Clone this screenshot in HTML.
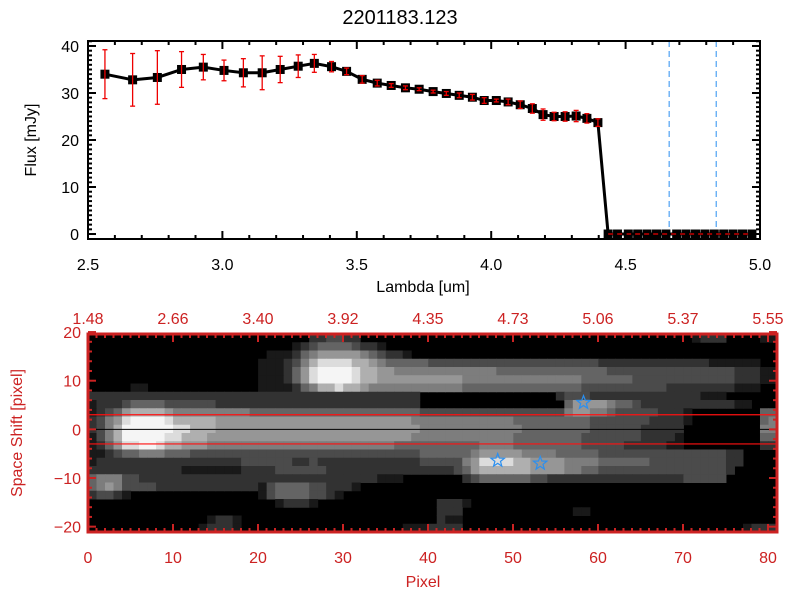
<!DOCTYPE html>
<html><head><meta charset="utf-8"><style>
html,body{margin:0;padding:0;background:#fff;width:800px;height:600px;overflow:hidden}
svg{display:block;font-family:"Liberation Sans",sans-serif}
</style></head><body>
<svg id="chart" width="800" height="600" viewBox="0 0 800 600" xmlns="http://www.w3.org/2000/svg">
<text x="400" y="24" text-anchor="middle" font-size="20">2201183.123</text>
<text x="423" y="292" text-anchor="middle" font-size="16">Lambda [um]</text>
<text transform="translate(36,140) rotate(-90)" text-anchor="middle" font-size="16">Flux [mJy]</text>
<text x="423" y="587" text-anchor="middle" font-size="16" fill="#cc2222">Pixel</text>
<text transform="translate(22,433) rotate(-90)" text-anchor="middle" font-size="16" fill="#cc2222">Space Shift [pixel]</text>
<g id="top"></g><g id="bot"></g>
</svg>
<script>
// ---- top spectrum data ----
const lambda = [2.563,2.666,2.758,2.848,2.929,3.006,3.078,3.148,3.215,3.282,3.342,3.406,3.462,3.52,3.576,3.628,3.681,3.732,3.784,3.833,3.881,3.930,3.974,4.019,4.063,4.108,4.153,4.193,4.234,4.275,4.316,4.356,4.397,4.435,4.47,4.51,4.545,4.58,4.615,4.65,4.69,4.725,4.76,4.795,4.83,4.865,4.90,4.935,4.97];
const flux = [34.0,32.8,33.3,35.0,35.5,34.8,34.3,34.3,35.0,35.7,36.3,35.6,34.6,32.9,32.1,31.6,31.1,30.8,30.3,29.9,29.5,29.1,28.4,28.4,28.1,27.5,26.7,25.4,25.0,25.0,25.1,24.6,23.7,0,0,0,0,0,0,0,0,0,0,0,0,0,0,0,0];
const fluxErr = [5.2,5.6,5.7,3.8,2.7,2.2,3.0,3.6,2.8,2.4,1.9,1.1,0.7,0.8,0.6,0.4,0.4,0.3,0.3,0.4,0.5,0.6,0.6,0.3,0.6,0.8,1.0,1.2,0.9,1.0,1.2,1.0,0.8,0,0,0,0,0,0,0,0,0,0,0,0,0,0,0,0];
const xTicksTop = [2.5,3.0,3.5,4.0,4.5,5.0];
const yTicksTop = [0,10,20,30,40];
const markerLines = [4.662,4.837];
// ---- bottom image data ----
const pixTicks = [0,10,20,30,40,50,60,70,80];
const topLambdaLabels = ["1.48","2.66","3.40","3.92","4.35","4.73","5.06","5.37","5.55"];
const shiftTicks = [20,10,0,-10,-20];
const apertureLines = [3,-3];
const starX = [58.3,48.2,53.2];
const starY = [5.5,-6.4,-7.0];
const imageRows = [
"0000000000 0000000000 0000002233 2200000000 0000000000 0000000000 0000000000 0122200001 1",
"0000000000 0000000000 0000123444 4322100000 0000000000 0000000000 0000000000 0000000000 0",
"0000000000 0000000000 0111245666 6654322100 0000000000 0000000000 0000000000 0000000000 0",
"0000000000 0000000000 1112357888 8776544444 3333333333 3333333333 2222222222 2221111110 0",
"0000000000 0000000000 1112468999 9877665555 5555555544 4444444444 4333333333 3333332221 1",
"0000000000 0000000000 1112468999 9877666666 6666555555 5555555544 4444333333 3333332221 1",
"0000011000 0000000000 1111245778 7765555555 5555444444 4444444433 3333333322 2222221110 0",
"2222222222 2222222222 2222222222 2222222220 0000000000 0000023332 2222222222 2211100000 0",
"1222344443 3333322222 2222222222 2222222220 0000000000 0000004666 6544322222 2222221100 0",
"1234677776 5555555554 4444444444 4444444443 3333333333 3333335665 5433333222 1000000004 4",
"2356899998 7777766666 6666666666 6666666655 5555555555 4444444443 3333332222 1000000004 5",
"2357999999 8877766666 6666666666 6666666665 5555555555 5444444443 3333322222 0000000005 5",
"1357999998 8777666666 6666666666 6666666655 5555555555 4444444433 3333322221 0000000004 4",
"1246889987 7666555555 5555555555 5555554444 4444445555 4444444433 3332222211 0000000002 2",
"1123445554 4433333333 3333333333 3333333334 4444456666 6555544444 3333333333 3333322000 0",
"1222222222 2222222233 3333223222 2222222223 3333568888 7766665555 4444443333 3333322000 0",
"2222222222 2111111122 2233333322 2222222222 2223467777 7766665544 3333333333 3333320000 0",
"4555332222 2222222222 2222222222 2222111000 0000234444 4433222222 2222222222 3333300000 0",
"4565333322 2222222222 1344443322 2100000000 0000000000 0000000000 0000000000 0000000000 0",
"2332100000 0000000000 1344443321 0000000000 0000000000 0000000000 0000000000 0000000000 0",
"0000000000 0000000000 0012221000 0000000000 0222100000 0000000000 0000000000 0000000000 0",
"0000000000 0000000000 0000000000 0000000000 0222000000 0000000110 0000000000 0000000000 0",
"0000000000 0000122100 0000000000 0000000000 0211000000 0000000000 0000000000 0000000000 0",
"0000000000 0001222100 0000000000 0000000111 2222000000 0000000000 0000000000 0000000122 2"
];
const NS="http://www.w3.org/2000/svg";
function mk(tag,attrs,parent){const e=document.createElementNS(NS,tag);for(const k in attrs)e.setAttribute(k,attrs[k]);parent.appendChild(e);return e;}
// ---------- TOP PLOT ----------
const T={l:88,r:760,t:41,b:239,x0:2.5,x1:5.0,y0:-1.06,y1:41.06};
const tx=v=>T.l+(v-T.x0)/(T.x1-T.x0)*(T.r-T.l);
const ty=v=>T.b-(v-T.y0)/(T.y1-T.y0)*(T.b-T.t);
const gT=document.getElementById('top');
markerLines.forEach((m,i)=>{
  const ln=mk('line',{x1:tx(m),x2:tx(m),y1:T.t,y2:T.b,stroke:'#2a8ff0','stroke-width':1,'stroke-dasharray':'6,4'},gT);
  
  
});
let pts=lambda.map((l,i)=>tx(l)+','+ty(flux[i])).join(' ');
const pl=mk('polyline',{points:pts,fill:'none',stroke:'#000','stroke-width':3},gT);


lambda.forEach((l,i)=>{
  const sq=mk('rect',{x:tx(l)-4.5,y:ty(flux[i])-4.5,width:9,height:9,fill:'#000'},gT);
  
  
});
lambda.forEach((l,i)=>{
  if(fluxErr[i]<=0)return;
  const x=tx(l),ya=ty(flux[i]+fluxErr[i]),yb=ty(flux[i]-fluxErr[i]);
  const g=mk('g',{stroke:'#e00','stroke-width':1.3},gT);
  
  
  mk('line',{x1:x,x2:x,y1:ya,y2:yb},g);
  mk('line',{x1:x-2.5,x2:x+2.5,y1:ya,y2:ya},g);
  mk('line',{x1:x-2.5,x2:x+2.5,y1:yb,y2:yb},g);
});
const zl=mk('line',{x1:tx(4.435),x2:T.r,y1:ty(0),y2:ty(0),stroke:'#e00','stroke-width':1.3,'stroke-dasharray':'5,4'},gT);


const frT=mk('rect',{x:T.l,y:T.t,width:T.r-T.l,height:T.b-T.t,fill:'none',stroke:'#000','stroke-width':2},gT);


for(let v=2.5;v<=5.0001;v+=0.1){const x=tx(v);const maj=Math.abs(v*2-Math.round(v*2))<1e-6;const L=maj?8:4;
  mk('line',{x1:x,x2:x,y1:T.b,y2:T.b-L,stroke:'#000','stroke-width':2},gT);
  mk('line',{x1:x,x2:x,y1:T.t,y2:T.t+L,stroke:'#000','stroke-width':2},gT);}
for(let v=0;v<=41;v+=1){const y=ty(v);const L=v%10===0?8:4;
  mk('line',{x1:T.l,x2:T.l+L,y1:y,y2:y,stroke:'#000','stroke-width':2},gT);
  mk('line',{x1:T.r,x2:T.r-L,y1:y,y2:y,stroke:'#000','stroke-width':2},gT);}
xTicksTop.forEach(v=>{const t=mk('text',{x:tx(v),y:270,'text-anchor':'middle','font-size':16},gT);t.textContent=v.toFixed(1);
  
  });
yTicksTop.forEach(v=>{const t=mk('text',{x:79,y:ty(v)+6,'text-anchor':'end','font-size':16},gT);t.textContent=v;
  
  });
// ---------- BOTTOM PLOT ----------
const B={l:88,r:777,t:334,b:532,x0:0,x1:81.06,y0:-21.1,y1:19.6};
const bx=v=>B.l+(v-B.x0)/(B.x1-B.x0)*(B.r-B.l);
const by=v=>B.b-(v-B.y0)/(B.y1-B.y0)*(B.b-B.t);
const gB=document.getElementById('bot');
const RED='#cc2222';
const bg=mk('rect',{x:B.l,y:B.t,width:B.r-B.l,height:B.b-B.t,fill:'#000'},gB);


const nR=imageRows.length,cw=(B.r-B.l)/81,rh=(B.b-B.t)/nR;
imageRows.forEach((rowRaw,r)=>{const row=rowRaw.replace(/ /g,'');for(let c=0;c<81;c++){const v=+row[c]||0;if(!v)continue;const g=Math.min(245,Math.round(v*25+(v>=8?20:0)));
  const cell=mk('rect',{x:B.l+c*cw,y:B.t+r*rh,width:cw+0.5,height:rh+0.5,fill:`rgb(${g},${g},${g})`},gB);
  
  }});
const cl=mk('line',{x1:B.l,x2:B.r,y1:by(0),y2:by(0),stroke:'#000','stroke-width':1},gB);


apertureLines.forEach(a=>{const l=mk('line',{x1:B.l,x2:B.r,y1:by(a),y2:by(a),stroke:'#ff1010','stroke-width':1.2},gB);
  
  });
function star(cx,cy,R){let p=[];for(let i=0;i<10;i++){const a=-Math.PI/2+i*Math.PI/5;const rr=i%2?R*0.42:R;p.push((cx+rr*Math.cos(a)).toFixed(1)+','+(cy+rr*Math.sin(a)).toFixed(1));}return p.join(' ');}
starX.forEach((sx,i)=>{const s=mk('polygon',{points:star(bx(sx),by(starY[i]),7),fill:'none',stroke:'#2a8ff0','stroke-width':1.2},gB);
  
  });
const frB=mk('rect',{x:B.l,y:B.t,width:B.r-B.l,height:B.b-B.t,fill:'none',stroke:RED,'stroke-width':3},gB);


for(let v=0;v<=81;v+=1){const x=bx(v);const L=v%10===0?8:4;
  mk('line',{x1:x,x2:x,y1:B.b,y2:B.b-L,stroke:RED,'stroke-width':2},gB);
  mk('line',{x1:x,x2:x,y1:B.t,y2:B.t+L,stroke:RED,'stroke-width':2},gB);}
for(let v=-20;v<=20;v+=2){const y=by(v);const L=v%10===0?8:4;
  mk('line',{x1:B.l,x2:B.l+L,y1:y,y2:y,stroke:RED,'stroke-width':2},gB);
  mk('line',{x1:B.r,x2:B.r-L,y1:y,y2:y,stroke:RED,'stroke-width':2},gB);}
pixTicks.forEach((v,i)=>{const t=mk('text',{x:bx(v),y:563,'text-anchor':'middle','font-size':16,fill:RED},gB);t.textContent=v;
  
  
  const u=mk('text',{x:bx(v),y:324,'text-anchor':'middle','font-size':16,fill:RED},gB);u.textContent=topLambdaLabels[i];
  
  });
shiftTicks.forEach(v=>{const t=mk('text',{x:81,y:by(v)+6,'text-anchor':'end','font-size':16,fill:RED},gB);t.textContent=v===0?'0':(v<0?'\u2212'+(-v):v);
  
  });
</script>
</body></html>
